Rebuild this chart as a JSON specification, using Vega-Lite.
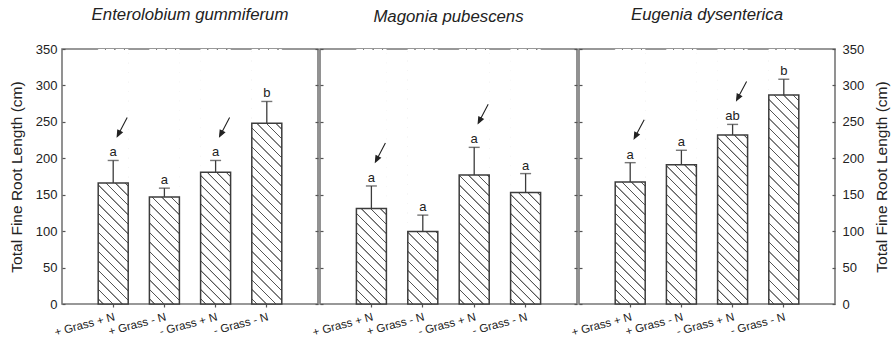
{
  "$schema": "https://vega.github.io/schema/vega-lite/v6.json",
  "padding": {"left": 8, "top": 6, "right": 0, "bottom": 0},
  "background": "white",
  "bounds": "flush",
  "spacing": 2,
  "data": {"values": [
    {"species": "Enterolobium gummiferum", "treatment": "+ Grass + N", "mean": 166, "upper": 197, "letter": "a", "arrow": true},
    {"species": "Enterolobium gummiferum", "treatment": "+ Grass - N", "mean": 147, "upper": 159, "letter": "a", "arrow": false},
    {"species": "Enterolobium gummiferum", "treatment": "- Grass + N", "mean": 181, "upper": 197, "letter": "a", "arrow": true},
    {"species": "Enterolobium gummiferum", "treatment": "- Grass - N", "mean": 248, "upper": 278, "letter": "b", "arrow": false},
    {"species": "Magonia pubescens", "treatment": "+ Grass + N", "mean": 131, "upper": 162, "letter": "a", "arrow": true},
    {"species": "Magonia pubescens", "treatment": "+ Grass - N", "mean": 99.5, "upper": 122, "letter": "a", "arrow": false},
    {"species": "Magonia pubescens", "treatment": "- Grass + N", "mean": 177, "upper": 215, "letter": "a", "arrow": true},
    {"species": "Magonia pubescens", "treatment": "- Grass - N", "mean": 153, "upper": 179, "letter": "a", "arrow": false},
    {"species": "Eugenia dysenterica", "treatment": "+ Grass + N", "mean": 167.5, "upper": 194, "letter": "a", "arrow": true},
    {"species": "Eugenia dysenterica", "treatment": "+ Grass - N", "mean": 191, "upper": 211, "letter": "a", "arrow": false},
    {"species": "Eugenia dysenterica", "treatment": "- Grass + N", "mean": 232, "upper": 246.5, "letter": "ab", "arrow": true},
    {"species": "Eugenia dysenterica", "treatment": "- Grass - N", "mean": 287, "upper": 308.5, "letter": "b", "arrow": false}
  ]},
  "hconcat": [
    {
      "width": 256, "height": 255,
      "title": {"text": "Enterolobium gummiferum", "offset": 19},
      "transform": [{"filter": "datum.species === 'Enterolobium gummiferum'"}],
      "encoding": {"x": {"field": "treatment", "type": "nominal", "title": null, "sort": ["+ Grass + N", "+ Grass - N", "- Grass + N", "- Grass - N"], "scale": {"paddingInner": 0, "paddingOuter": 0.5}}},
      "resolve": {"axis": {"y": "independent"}},
      "layer": [
        {"mark": {"type": "bar", "width": 30, "stroke": null, "fill": {"gradient": "linear", "x1": 0, "y1": 1, "x2": 0.12969, "y2": -0.10239, "stops": [
          {"offset":0.015,"color":"#fff"},{"offset":0.017,"color":"#555"},{"offset":0.0195,"color":"#555"},{"offset":0.0215,"color":"#fff"},
          {"offset":0.04833,"color":"#fff"},{"offset":0.05033,"color":"#555"},{"offset":0.05283,"color":"#555"},{"offset":0.05483,"color":"#fff"},
          {"offset":0.08167,"color":"#fff"},{"offset":0.08367,"color":"#555"},{"offset":0.08617,"color":"#555"},{"offset":0.08817,"color":"#fff"},
          {"offset":0.115,"color":"#fff"},{"offset":0.117,"color":"#555"},{"offset":0.1195,"color":"#555"},{"offset":0.1215,"color":"#fff"},
          {"offset":0.14833,"color":"#fff"},{"offset":0.15033,"color":"#555"},{"offset":0.15283,"color":"#555"},{"offset":0.15483,"color":"#fff"},
          {"offset":0.18167,"color":"#fff"},{"offset":0.18367,"color":"#555"},{"offset":0.18617,"color":"#555"},{"offset":0.18817,"color":"#fff"},
          {"offset":0.215,"color":"#fff"},{"offset":0.217,"color":"#555"},{"offset":0.2195,"color":"#555"},{"offset":0.2215,"color":"#fff"},
          {"offset":0.24833,"color":"#fff"},{"offset":0.25033,"color":"#555"},{"offset":0.25283,"color":"#555"},{"offset":0.25483,"color":"#fff"},
          {"offset":0.28167,"color":"#fff"},{"offset":0.28367,"color":"#555"},{"offset":0.28617,"color":"#555"},{"offset":0.28817,"color":"#fff"},
          {"offset":0.315,"color":"#fff"},{"offset":0.317,"color":"#555"},{"offset":0.3195,"color":"#555"},{"offset":0.3215,"color":"#fff"},
          {"offset":0.34833,"color":"#fff"},{"offset":0.35033,"color":"#555"},{"offset":0.35283,"color":"#555"},{"offset":0.35483,"color":"#fff"},
          {"offset":0.38167,"color":"#fff"},{"offset":0.38367,"color":"#555"},{"offset":0.38617,"color":"#555"},{"offset":0.38817,"color":"#fff"},
          {"offset":0.415,"color":"#fff"},{"offset":0.417,"color":"#555"},{"offset":0.4195,"color":"#555"},{"offset":0.4215,"color":"#fff"},
          {"offset":0.44833,"color":"#fff"},{"offset":0.45033,"color":"#555"},{"offset":0.45283,"color":"#555"},{"offset":0.45483,"color":"#fff"},
          {"offset":0.48167,"color":"#fff"},{"offset":0.48367,"color":"#555"},{"offset":0.48617,"color":"#555"},{"offset":0.48817,"color":"#fff"},
          {"offset":0.515,"color":"#fff"},{"offset":0.517,"color":"#555"},{"offset":0.5195,"color":"#555"},{"offset":0.5215,"color":"#fff"},
          {"offset":0.54833,"color":"#fff"},{"offset":0.55033,"color":"#555"},{"offset":0.55283,"color":"#555"},{"offset":0.55483,"color":"#fff"},
          {"offset":0.58167,"color":"#fff"},{"offset":0.58367,"color":"#555"},{"offset":0.58617,"color":"#555"},{"offset":0.58817,"color":"#fff"},
          {"offset":0.615,"color":"#fff"},{"offset":0.617,"color":"#555"},{"offset":0.6195,"color":"#555"},{"offset":0.6215,"color":"#fff"},
          {"offset":0.64833,"color":"#fff"},{"offset":0.65033,"color":"#555"},{"offset":0.65283,"color":"#555"},{"offset":0.65483,"color":"#fff"},
          {"offset":0.68167,"color":"#fff"},{"offset":0.68367,"color":"#555"},{"offset":0.68617,"color":"#555"},{"offset":0.68817,"color":"#fff"},
          {"offset":0.715,"color":"#fff"},{"offset":0.717,"color":"#555"},{"offset":0.7195,"color":"#555"},{"offset":0.7215,"color":"#fff"},
          {"offset":0.74833,"color":"#fff"},{"offset":0.75033,"color":"#555"},{"offset":0.75283,"color":"#555"},{"offset":0.75483,"color":"#fff"},
          {"offset":0.78167,"color":"#fff"},{"offset":0.78367,"color":"#555"},{"offset":0.78617,"color":"#555"},{"offset":0.78817,"color":"#fff"},
          {"offset":0.815,"color":"#fff"},{"offset":0.817,"color":"#555"},{"offset":0.8195,"color":"#555"},{"offset":0.8215,"color":"#fff"},
          {"offset":0.84833,"color":"#fff"},{"offset":0.85033,"color":"#555"},{"offset":0.85283,"color":"#555"},{"offset":0.85483,"color":"#fff"},
          {"offset":0.88167,"color":"#fff"},{"offset":0.88367,"color":"#555"},{"offset":0.88617,"color":"#555"},{"offset":0.88817,"color":"#fff"},
          {"offset":0.915,"color":"#fff"},{"offset":0.917,"color":"#555"},{"offset":0.9195,"color":"#555"},{"offset":0.9215,"color":"#fff"},
          {"offset":0.94833,"color":"#fff"},{"offset":0.95033,"color":"#555"},{"offset":0.95283,"color":"#555"},{"offset":0.95483,"color":"#fff"},
          {"offset":0.98167,"color":"#fff"},{"offset":0.98367,"color":"#555"},{"offset":0.98617,"color":"#555"},{"offset":0.98817,"color":"#fff"}
        ]}},
         "encoding": {"y": {"datum": 350, "type": "quantitative", "scale": {"domain": [0, 350], "nice": false}, "axis": {"orient": "left", "title": "Total Fine Root Length (cm)", "labelPadding": 8, "titlePadding": 11}}, "y2": {"datum": 0}}},
        {"mark": {"type": "bar", "width": 31, "fill": "white", "stroke": null}, "encoding": {"y": {"field": "mean", "type": "quantitative", "axis": null, "stack": null}, "y2": {"datum": 349}}},
        {"mark": {"type": "bar", "width": 30, "fill": "transparent", "stroke": "#3c3c3c", "strokeWidth": 1.5}, "encoding": {"y": {"field": "mean", "type": "quantitative", "stack": null, "axis": {"orient": "right", "labels": false, "title": null}}}},
        {"mark": {"type": "rule", "color": "#3c3c3c", "strokeWidth": 1.3}, "encoding": {"y": {"field": "mean", "type": "quantitative", "axis": null}, "y2": {"field": "upper"}}},
        {"mark": {"type": "tick", "color": "#3c3c3c", "size": 11, "thickness": 1.4}, "encoding": {"y": {"field": "upper", "type": "quantitative", "axis": null}}},
        {"mark": {"type": "text", "dy": -4, "baseline": "alphabetic", "fontSize": 13, "color": "#222"}, "encoding": {"y": {"field": "upper", "type": "quantitative", "axis": null}, "text": {"field": "letter"}}},
        {"transform": [{"filter": "datum.arrow"}], "mark": {"type": "point", "shape": "M0.5,-0.95L-0.22,0.419M-0.5,0.95L0.001,0.536L-0.441,0.303Z", "size": 400, "filled": true, "fill": "#222", "stroke": "#222", "strokeWidth": 1.1, "opacity": 1, "xOffset": 9, "yOffset": -33.5}, "encoding": {"y": {"field": "upper", "type": "quantitative", "axis": null}}}
      ]
    },
    {
      "width": 257, "height": 255,
      "title": {"text": "Magonia pubescens", "offset": 23},
      "transform": [{"filter": "datum.species === 'Magonia pubescens'"}],
      "encoding": {"x": {"field": "treatment", "type": "nominal", "title": null, "sort": ["+ Grass + N", "+ Grass - N", "- Grass + N", "- Grass - N"], "scale": {"paddingInner": 0, "paddingOuter": 0.5}}},
      "resolve": {"axis": {"y": "independent"}},
      "layer": [
        {"mark": {"type": "bar", "width": 30, "stroke": null, "fill": {"gradient": "linear", "x1": 0, "y1": 1, "x2": 0.12969, "y2": -0.10239, "stops": [
          {"offset":0.015,"color":"#fff"},{"offset":0.017,"color":"#555"},{"offset":0.0195,"color":"#555"},{"offset":0.0215,"color":"#fff"},
          {"offset":0.04833,"color":"#fff"},{"offset":0.05033,"color":"#555"},{"offset":0.05283,"color":"#555"},{"offset":0.05483,"color":"#fff"},
          {"offset":0.08167,"color":"#fff"},{"offset":0.08367,"color":"#555"},{"offset":0.08617,"color":"#555"},{"offset":0.08817,"color":"#fff"},
          {"offset":0.115,"color":"#fff"},{"offset":0.117,"color":"#555"},{"offset":0.1195,"color":"#555"},{"offset":0.1215,"color":"#fff"},
          {"offset":0.14833,"color":"#fff"},{"offset":0.15033,"color":"#555"},{"offset":0.15283,"color":"#555"},{"offset":0.15483,"color":"#fff"},
          {"offset":0.18167,"color":"#fff"},{"offset":0.18367,"color":"#555"},{"offset":0.18617,"color":"#555"},{"offset":0.18817,"color":"#fff"},
          {"offset":0.215,"color":"#fff"},{"offset":0.217,"color":"#555"},{"offset":0.2195,"color":"#555"},{"offset":0.2215,"color":"#fff"},
          {"offset":0.24833,"color":"#fff"},{"offset":0.25033,"color":"#555"},{"offset":0.25283,"color":"#555"},{"offset":0.25483,"color":"#fff"},
          {"offset":0.28167,"color":"#fff"},{"offset":0.28367,"color":"#555"},{"offset":0.28617,"color":"#555"},{"offset":0.28817,"color":"#fff"},
          {"offset":0.315,"color":"#fff"},{"offset":0.317,"color":"#555"},{"offset":0.3195,"color":"#555"},{"offset":0.3215,"color":"#fff"},
          {"offset":0.34833,"color":"#fff"},{"offset":0.35033,"color":"#555"},{"offset":0.35283,"color":"#555"},{"offset":0.35483,"color":"#fff"},
          {"offset":0.38167,"color":"#fff"},{"offset":0.38367,"color":"#555"},{"offset":0.38617,"color":"#555"},{"offset":0.38817,"color":"#fff"},
          {"offset":0.415,"color":"#fff"},{"offset":0.417,"color":"#555"},{"offset":0.4195,"color":"#555"},{"offset":0.4215,"color":"#fff"},
          {"offset":0.44833,"color":"#fff"},{"offset":0.45033,"color":"#555"},{"offset":0.45283,"color":"#555"},{"offset":0.45483,"color":"#fff"},
          {"offset":0.48167,"color":"#fff"},{"offset":0.48367,"color":"#555"},{"offset":0.48617,"color":"#555"},{"offset":0.48817,"color":"#fff"},
          {"offset":0.515,"color":"#fff"},{"offset":0.517,"color":"#555"},{"offset":0.5195,"color":"#555"},{"offset":0.5215,"color":"#fff"},
          {"offset":0.54833,"color":"#fff"},{"offset":0.55033,"color":"#555"},{"offset":0.55283,"color":"#555"},{"offset":0.55483,"color":"#fff"},
          {"offset":0.58167,"color":"#fff"},{"offset":0.58367,"color":"#555"},{"offset":0.58617,"color":"#555"},{"offset":0.58817,"color":"#fff"},
          {"offset":0.615,"color":"#fff"},{"offset":0.617,"color":"#555"},{"offset":0.6195,"color":"#555"},{"offset":0.6215,"color":"#fff"},
          {"offset":0.64833,"color":"#fff"},{"offset":0.65033,"color":"#555"},{"offset":0.65283,"color":"#555"},{"offset":0.65483,"color":"#fff"},
          {"offset":0.68167,"color":"#fff"},{"offset":0.68367,"color":"#555"},{"offset":0.68617,"color":"#555"},{"offset":0.68817,"color":"#fff"},
          {"offset":0.715,"color":"#fff"},{"offset":0.717,"color":"#555"},{"offset":0.7195,"color":"#555"},{"offset":0.7215,"color":"#fff"},
          {"offset":0.74833,"color":"#fff"},{"offset":0.75033,"color":"#555"},{"offset":0.75283,"color":"#555"},{"offset":0.75483,"color":"#fff"},
          {"offset":0.78167,"color":"#fff"},{"offset":0.78367,"color":"#555"},{"offset":0.78617,"color":"#555"},{"offset":0.78817,"color":"#fff"},
          {"offset":0.815,"color":"#fff"},{"offset":0.817,"color":"#555"},{"offset":0.8195,"color":"#555"},{"offset":0.8215,"color":"#fff"},
          {"offset":0.84833,"color":"#fff"},{"offset":0.85033,"color":"#555"},{"offset":0.85283,"color":"#555"},{"offset":0.85483,"color":"#fff"},
          {"offset":0.88167,"color":"#fff"},{"offset":0.88367,"color":"#555"},{"offset":0.88617,"color":"#555"},{"offset":0.88817,"color":"#fff"},
          {"offset":0.915,"color":"#fff"},{"offset":0.917,"color":"#555"},{"offset":0.9195,"color":"#555"},{"offset":0.9215,"color":"#fff"},
          {"offset":0.94833,"color":"#fff"},{"offset":0.95033,"color":"#555"},{"offset":0.95283,"color":"#555"},{"offset":0.95483,"color":"#fff"},
          {"offset":0.98167,"color":"#fff"},{"offset":0.98367,"color":"#555"},{"offset":0.98617,"color":"#555"},{"offset":0.98817,"color":"#fff"}
        ]}},
         "encoding": {"y": {"datum": 350, "type": "quantitative", "scale": {"domain": [0, 350], "nice": false}, "axis": {"orient": "left", "labels": false, "title": null}}, "y2": {"datum": 0}}},
        {"mark": {"type": "bar", "width": 31, "fill": "white", "stroke": null}, "encoding": {"y": {"field": "mean", "type": "quantitative", "axis": null, "stack": null}, "y2": {"datum": 349}}},
        {"mark": {"type": "bar", "width": 30, "fill": "transparent", "stroke": "#3c3c3c", "strokeWidth": 1.5}, "encoding": {"y": {"field": "mean", "type": "quantitative", "stack": null, "axis": {"orient": "right", "labels": false, "title": null}}}},
        {"mark": {"type": "rule", "color": "#3c3c3c", "strokeWidth": 1.3}, "encoding": {"y": {"field": "mean", "type": "quantitative", "axis": null}, "y2": {"field": "upper"}}},
        {"mark": {"type": "tick", "color": "#3c3c3c", "size": 11, "thickness": 1.4}, "encoding": {"y": {"field": "upper", "type": "quantitative", "axis": null}}},
        {"mark": {"type": "text", "dy": -4, "baseline": "alphabetic", "fontSize": 13, "color": "#222"}, "encoding": {"y": {"field": "upper", "type": "quantitative", "axis": null}, "text": {"field": "letter"}}},
        {"transform": [{"filter": "datum.arrow"}], "mark": {"type": "point", "shape": "M0.5,-0.95L-0.22,0.419M-0.5,0.95L0.001,0.536L-0.441,0.303Z", "size": 400, "filled": true, "fill": "#222", "stroke": "#222", "strokeWidth": 1.1, "opacity": 1, "xOffset": 9, "yOffset": -33.5}, "encoding": {"y": {"field": "upper", "type": "quantitative", "axis": null}}}
      ]
    },
    {
      "width": 256, "height": 255,
      "title": {"text": "Eugenia dysenterica", "offset": 19},
      "transform": [{"filter": "datum.species === 'Eugenia dysenterica'"}],
      "encoding": {"x": {"field": "treatment", "type": "nominal", "title": null, "sort": ["+ Grass + N", "+ Grass - N", "- Grass + N", "- Grass - N"], "scale": {"paddingInner": 0, "paddingOuter": 0.5}}},
      "resolve": {"axis": {"y": "independent"}},
      "layer": [
        {"mark": {"type": "bar", "width": 30, "stroke": null, "fill": {"gradient": "linear", "x1": 0, "y1": 1, "x2": 0.12969, "y2": -0.10239, "stops": [
          {"offset":0.015,"color":"#fff"},{"offset":0.017,"color":"#555"},{"offset":0.0195,"color":"#555"},{"offset":0.0215,"color":"#fff"},
          {"offset":0.04833,"color":"#fff"},{"offset":0.05033,"color":"#555"},{"offset":0.05283,"color":"#555"},{"offset":0.05483,"color":"#fff"},
          {"offset":0.08167,"color":"#fff"},{"offset":0.08367,"color":"#555"},{"offset":0.08617,"color":"#555"},{"offset":0.08817,"color":"#fff"},
          {"offset":0.115,"color":"#fff"},{"offset":0.117,"color":"#555"},{"offset":0.1195,"color":"#555"},{"offset":0.1215,"color":"#fff"},
          {"offset":0.14833,"color":"#fff"},{"offset":0.15033,"color":"#555"},{"offset":0.15283,"color":"#555"},{"offset":0.15483,"color":"#fff"},
          {"offset":0.18167,"color":"#fff"},{"offset":0.18367,"color":"#555"},{"offset":0.18617,"color":"#555"},{"offset":0.18817,"color":"#fff"},
          {"offset":0.215,"color":"#fff"},{"offset":0.217,"color":"#555"},{"offset":0.2195,"color":"#555"},{"offset":0.2215,"color":"#fff"},
          {"offset":0.24833,"color":"#fff"},{"offset":0.25033,"color":"#555"},{"offset":0.25283,"color":"#555"},{"offset":0.25483,"color":"#fff"},
          {"offset":0.28167,"color":"#fff"},{"offset":0.28367,"color":"#555"},{"offset":0.28617,"color":"#555"},{"offset":0.28817,"color":"#fff"},
          {"offset":0.315,"color":"#fff"},{"offset":0.317,"color":"#555"},{"offset":0.3195,"color":"#555"},{"offset":0.3215,"color":"#fff"},
          {"offset":0.34833,"color":"#fff"},{"offset":0.35033,"color":"#555"},{"offset":0.35283,"color":"#555"},{"offset":0.35483,"color":"#fff"},
          {"offset":0.38167,"color":"#fff"},{"offset":0.38367,"color":"#555"},{"offset":0.38617,"color":"#555"},{"offset":0.38817,"color":"#fff"},
          {"offset":0.415,"color":"#fff"},{"offset":0.417,"color":"#555"},{"offset":0.4195,"color":"#555"},{"offset":0.4215,"color":"#fff"},
          {"offset":0.44833,"color":"#fff"},{"offset":0.45033,"color":"#555"},{"offset":0.45283,"color":"#555"},{"offset":0.45483,"color":"#fff"},
          {"offset":0.48167,"color":"#fff"},{"offset":0.48367,"color":"#555"},{"offset":0.48617,"color":"#555"},{"offset":0.48817,"color":"#fff"},
          {"offset":0.515,"color":"#fff"},{"offset":0.517,"color":"#555"},{"offset":0.5195,"color":"#555"},{"offset":0.5215,"color":"#fff"},
          {"offset":0.54833,"color":"#fff"},{"offset":0.55033,"color":"#555"},{"offset":0.55283,"color":"#555"},{"offset":0.55483,"color":"#fff"},
          {"offset":0.58167,"color":"#fff"},{"offset":0.58367,"color":"#555"},{"offset":0.58617,"color":"#555"},{"offset":0.58817,"color":"#fff"},
          {"offset":0.615,"color":"#fff"},{"offset":0.617,"color":"#555"},{"offset":0.6195,"color":"#555"},{"offset":0.6215,"color":"#fff"},
          {"offset":0.64833,"color":"#fff"},{"offset":0.65033,"color":"#555"},{"offset":0.65283,"color":"#555"},{"offset":0.65483,"color":"#fff"},
          {"offset":0.68167,"color":"#fff"},{"offset":0.68367,"color":"#555"},{"offset":0.68617,"color":"#555"},{"offset":0.68817,"color":"#fff"},
          {"offset":0.715,"color":"#fff"},{"offset":0.717,"color":"#555"},{"offset":0.7195,"color":"#555"},{"offset":0.7215,"color":"#fff"},
          {"offset":0.74833,"color":"#fff"},{"offset":0.75033,"color":"#555"},{"offset":0.75283,"color":"#555"},{"offset":0.75483,"color":"#fff"},
          {"offset":0.78167,"color":"#fff"},{"offset":0.78367,"color":"#555"},{"offset":0.78617,"color":"#555"},{"offset":0.78817,"color":"#fff"},
          {"offset":0.815,"color":"#fff"},{"offset":0.817,"color":"#555"},{"offset":0.8195,"color":"#555"},{"offset":0.8215,"color":"#fff"},
          {"offset":0.84833,"color":"#fff"},{"offset":0.85033,"color":"#555"},{"offset":0.85283,"color":"#555"},{"offset":0.85483,"color":"#fff"},
          {"offset":0.88167,"color":"#fff"},{"offset":0.88367,"color":"#555"},{"offset":0.88617,"color":"#555"},{"offset":0.88817,"color":"#fff"},
          {"offset":0.915,"color":"#fff"},{"offset":0.917,"color":"#555"},{"offset":0.9195,"color":"#555"},{"offset":0.9215,"color":"#fff"},
          {"offset":0.94833,"color":"#fff"},{"offset":0.95033,"color":"#555"},{"offset":0.95283,"color":"#555"},{"offset":0.95483,"color":"#fff"},
          {"offset":0.98167,"color":"#fff"},{"offset":0.98367,"color":"#555"},{"offset":0.98617,"color":"#555"},{"offset":0.98817,"color":"#fff"}
        ]}},
         "encoding": {"y": {"datum": 350, "type": "quantitative", "scale": {"domain": [0, 350], "nice": false}, "axis": {"orient": "left", "labels": false, "title": null}}, "y2": {"datum": 0}}},
        {"mark": {"type": "bar", "width": 31, "fill": "white", "stroke": null}, "encoding": {"y": {"field": "mean", "type": "quantitative", "axis": null, "stack": null}, "y2": {"datum": 349}}},
        {"mark": {"type": "bar", "width": 30, "fill": "transparent", "stroke": "#3c3c3c", "strokeWidth": 1.5}, "encoding": {"y": {"field": "mean", "type": "quantitative", "stack": null, "axis": {"orient": "right", "title": "Total Fine Root Length (cm)", "titleAngle": -90, "titleBaseline": "top", "titlePadding": 11, "labelPadding": 10}}}},
        {"mark": {"type": "rule", "color": "#3c3c3c", "strokeWidth": 1.3}, "encoding": {"y": {"field": "mean", "type": "quantitative", "axis": null}, "y2": {"field": "upper"}}},
        {"mark": {"type": "tick", "color": "#3c3c3c", "size": 11, "thickness": 1.4}, "encoding": {"y": {"field": "upper", "type": "quantitative", "axis": null}}},
        {"mark": {"type": "text", "dy": -4, "baseline": "alphabetic", "fontSize": 13, "color": "#222"}, "encoding": {"y": {"field": "upper", "type": "quantitative", "axis": null}, "text": {"field": "letter"}}},
        {"transform": [{"filter": "datum.arrow"}], "mark": {"type": "point", "shape": "M0.5,-0.95L-0.22,0.419M-0.5,0.95L0.001,0.536L-0.441,0.303Z", "size": 400, "filled": true, "fill": "#222", "stroke": "#222", "strokeWidth": 1.1, "opacity": 1, "xOffset": 9, "yOffset": -33.5}, "encoding": {"y": {"field": "upper", "type": "quantitative", "axis": null}}}
      ]
    }
  ],
  "config": {
    "font": "Liberation Sans",
    "view": {"stroke": "#777", "strokeWidth": 1.6},
    "title": {"fontSize": 16.8, "fontStyle": "italic", "fontWeight": "normal", "color": "#222", "baseline": "alphabetic", "frame": "group", "anchor": "middle"},
    "axis": {"grid": false, "domain": false, "tickColor": "#555", "labelColor": "#222", "titleColor": "#222", "labelFont": "Liberation Sans", "titleFont": "Liberation Sans"},
    "axisY": {"values": [0, 50, 100, 150, 200, 250, 300, 350], "minExtent": 0, "tickSize": -3, "tickWidth": 1.2, "labelFontSize": 13, "labelPadding": 0, "titleFontSize": 15.5, "titleFontWeight": "normal", "titlePadding": 4},
    "axisX": {"tickSize": 3, "tickWidth": 1.2, "labelAngle": -15, "labelAlign": "right", "labelBaseline": "top", "labelFontSize": 11.5, "labelPadding": 4}
  }
}
